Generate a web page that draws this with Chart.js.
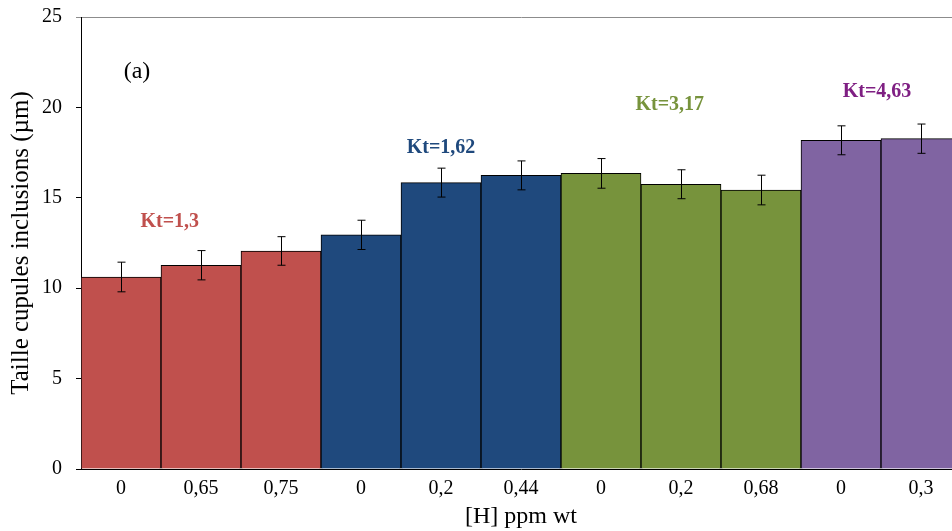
<!DOCTYPE html>
<html>
<head>
<meta charset="utf-8">
<script src="https://cdn.jsdelivr.net/npm/chart.js@4/dist/chart.umd.min.js"></script>
<style>
  html, body { margin: 0; padding: 0; overflow: hidden; background: #fff; }
  canvas { display: block; }
</style>
</head>
<body>
<canvas id="taille" width="962" height="531"></canvas>
<script>
// teneur en hydrogène (étiquettes de l'axe x)
var hLabels  = ['0', '0,65', '0,75', '0', '0,2', '0,44', '0', '0,2', '0,68', '0', '0,3'];
// taille moyenne des cupules (µm)
var tailles  = [10.62, 11.27, 12.06, 12.95, 15.84, 16.24, 16.35, 15.75, 15.43, 18.18, 18.27];
// écart (barres d'erreur)
var ecarts   = [0.82, 0.81, 0.79, 0.81, 0.80, 0.80, 0.82, 0.80, 0.82, 0.80, 0.81];
// groupe Kt de chaque barre
var groupes  = [0, 0, 0, 1, 1, 1, 2, 2, 2, 3, 3];
var ktTextes = ['Kt=1,3', 'Kt=1,62', 'Kt=3,17', 'Kt=4,63'];
var yTicks   = [0, 5, 10, 15, 20, 25];

var couleursBarres = ['#C0504D', '#1F497D', '#77933C', '#8064A2'];
var couleursKt     = ['#C0504D', '#1F497D', '#77933C', '#7F1F83'];
// position des textes Kt (en unités des axes)
var ktPos = [[0.61, 13.66], [4.0, 17.79], [6.86, 20.13], [9.45, 20.85]];

var police = '"Liberation Serif", "Times New Roman", serif';

// barres d'erreur
var barresErreur = {
  id: 'barresErreur',
  afterDatasetsDraw: function(chart) {
    var ctx = chart.ctx, xs = chart.scales.x, ys = chart.scales.y;
    ctx.save();
    ctx.strokeStyle = '#000';
    ctx.lineWidth = 1;
    for (var i = 0; i < tailles.length; i++) {
      var x = Math.round(xs.getPixelForValue(i)) + 0.5;
      var yh = ys.getPixelForValue(tailles[i] + ecarts[i]);
      var yb = ys.getPixelForValue(tailles[i] - ecarts[i]);
      ctx.beginPath();
      ctx.moveTo(x, yh); ctx.lineTo(x, yb);
      ctx.moveTo(x - 4, yh); ctx.lineTo(x + 4, yh);
      ctx.moveTo(x - 4, yb); ctx.lineTo(x + 4, yb);
      ctx.stroke();
    }
    ctx.restore();
  }
};

// textes Kt et (a)
var textes = {
  id: 'textes',
  afterDraw: function(chart) {
    var ctx = chart.ctx, xs = chart.scales.x, ys = chart.scales.y;
    ctx.save();
    ctx.textAlign = 'center';
    ctx.textBaseline = 'middle';
    ctx.font = 'bold 20px ' + police;
    for (var i = 0; i < ktTextes.length; i++) {
      ctx.fillStyle = couleursKt[i];
      ctx.fillText(ktTextes[i], xs.getPixelForValue(ktPos[i][0]), ys.getPixelForValue(ktPos[i][1]));
    }
    ctx.font = '24px ' + police;
    ctx.fillStyle = '#000';
    ctx.fillText('(a)', xs.getPixelForValue(0.2), ys.getPixelForValue(21.96));
    ctx.restore();
  }
};

var graphique = new Chart(document.getElementById('taille'), {
  type: 'bar',
  data: {
    labels: hLabels,
    datasets: [{
      data: tailles,
      backgroundColor: groupes.map(function(g) { return couleursBarres[g]; }),
      borderColor: '#000',
      borderWidth: 1,
      categoryPercentage: 1,
      barPercentage: 1
    }]
  },
  options: {
    responsive: false,
    animation: false,
    layout: { padding: { left: 0, right: 1, top: 17, bottom: 0 } },
    plugins: {
      legend: { display: false },
      tooltip: { enabled: false }
    },
    scales: {
      x: {
        grid: { display: false, drawTicks: false },
        border: { display: true, color: '#000', width: 1 },
        ticks: { color: '#000', padding: 8, font: { family: police, size: 20 } },
        title: {
          display: true,
          text: '[H] ppm wt',
          color: '#000',
          font: { family: police, size: 24 },
          padding: { top: 0, bottom: 0 }
        },
        afterFit: function(scale) { scale.height = 62; }
      },
      y: {
        min: 0,
        max: 25,
        afterBuildTicks: function(scale) {
          scale.ticks = yTicks.map(function(v) { return { value: v }; });
        },
        grid: {
          drawTicks: true,
          tickLength: 5,
          color: function(c) { return c.tick && c.tick.value === 25 ? '#8c8c8c' : 'rgba(0,0,0,0)'; },
          tickColor: function(c) { return c.tick && c.tick.value === 25 ? '#8c8c8c' : '#000'; }
        },
        border: { display: true, color: '#000', width: 1 },
        ticks: { color: '#000', padding: 14, font: { family: police, size: 20 } },
        title: {
          display: true,
          text: 'Taille cupules inclusions (µm)',
          color: '#000',
          font: { family: police, size: 25 },
          padding: { top: 6, bottom: 0 }
        },
        afterFit: function(scale) {
          scale.width = 81;
          scale.paddingTop = 0;
          scale.paddingBottom = 0;
        }
      }
    }
  },
  plugins: [barresErreur, textes]
});
</script>
</body>
</html>
